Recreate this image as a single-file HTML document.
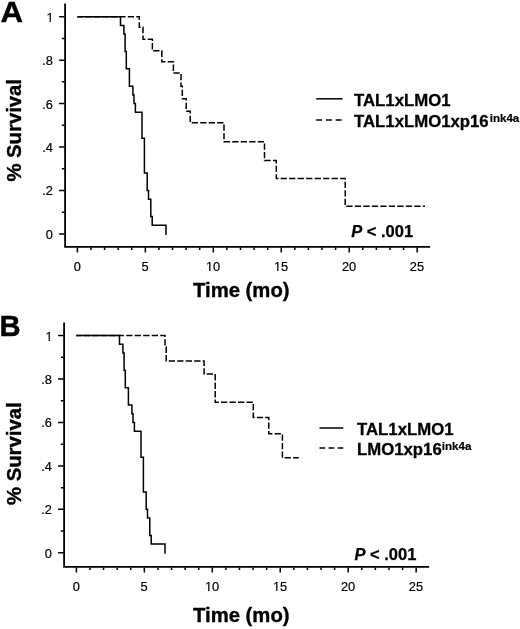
<!DOCTYPE html>
<html lang="en">
<head>
<meta charset="utf-8">
<title>Survival curves</title>
<style>
html,body{margin:0;padding:0;background:#fff;}
body{width:520px;height:629px;overflow:hidden;}
svg{display:block;will-change:transform;opacity:0.999;}
text{font-family:"Liberation Sans", Arial, Helvetica, sans-serif;fill:#000;}
.tk{font-size:12.8px;stroke:#000;stroke-width:0.2px;}
.ttl{font-size:20.3px;font-weight:bold;stroke:#000;stroke-width:0.35px;}
.pl{font-size:29.5px;font-weight:bold;stroke:#000;stroke-width:0.4px;}
.lg{font-size:16.75px;font-weight:bold;stroke:#000;stroke-width:0.3px;}
.sup{font-size:11.6px;font-weight:bold;stroke-width:0.2px;}
.pv{font-size:16.5px;font-weight:bold;stroke:#000;stroke-width:0.25px;}
</style>
</head>
<body>
<svg width="520" height="629" viewBox="0 0 520 629">
<rect width="520" height="629" fill="#fff"/>
<path d="M65.10,3.60 V246.85 H430.15" fill="none" stroke="#000" stroke-width="1.8" stroke-linejoin="miter"/>
<path d="M64.60,16.70 h-5.50 M64.60,38.42 h-2.80 M64.60,60.14 h-5.50 M64.60,81.86 h-2.80 M64.60,103.58 h-5.50 M64.60,125.30 h-2.80 M64.60,147.02 h-5.50 M64.60,168.74 h-2.80 M64.60,190.46 h-5.50 M64.60,212.18 h-2.80 M64.60,233.90 h-5.50 M77.40,247.35 v5.20 M90.99,247.35 v2.60 M104.58,247.35 v2.60 M118.17,247.35 v2.60 M131.76,247.35 v2.60 M145.35,247.35 v5.20 M158.94,247.35 v2.60 M172.53,247.35 v2.60 M186.12,247.35 v2.60 M199.71,247.35 v2.60 M213.30,247.35 v5.20 M226.89,247.35 v2.60 M240.48,247.35 v2.60 M254.07,247.35 v2.60 M267.66,247.35 v2.60 M281.25,247.35 v5.20 M294.84,247.35 v2.60 M308.43,247.35 v2.60 M322.02,247.35 v2.60 M335.61,247.35 v2.60 M349.20,247.35 v5.20 M362.79,247.35 v2.60 M376.38,247.35 v2.60 M389.97,247.35 v2.60 M403.56,247.35 v2.60 M417.15,247.35 v5.20" fill="none" stroke="#000" stroke-width="1.5"/>
<text x="53.50" y="21.70" text-anchor="end" class="tk">1</text>
<rect x="46.64" y="20.24" width="2.88" height="2.16" fill="#fff"/><rect x="50.86" y="20.24" width="3.07" height="2.16" fill="#fff"/>
<text x="52.90" y="65.14" text-anchor="end" class="tk">.8</text>
<text x="52.90" y="108.58" text-anchor="end" class="tk">.6</text>
<text x="52.90" y="152.02" text-anchor="end" class="tk">.4</text>
<text x="52.90" y="195.46" text-anchor="end" class="tk">.2</text>
<text x="52.90" y="238.90" text-anchor="end" class="tk">0</text>
<text x="77.20" y="271.15" text-anchor="middle" class="tk">0</text>
<text x="145.15" y="271.15" text-anchor="middle" class="tk">5</text>
<text x="213.10" y="271.15" text-anchor="middle" class="tk">10</text>
<rect x="206.24" y="269.69" width="2.88" height="2.16" fill="#fff"/><rect x="210.46" y="269.69" width="3.07" height="2.16" fill="#fff"/>
<text x="281.05" y="271.15" text-anchor="middle" class="tk">15</text>
<rect x="274.19" y="269.69" width="2.88" height="2.16" fill="#fff"/><rect x="278.41" y="269.69" width="3.07" height="2.16" fill="#fff"/>
<text x="349.00" y="271.15" text-anchor="middle" class="tk">20</text>
<text x="416.95" y="271.15" text-anchor="middle" class="tk">25</text>
<path d="M77.40,16.70 L120.50,16.70 L120.50,25.39 L123.90,25.39 L123.90,34.08 L125.10,34.08 L125.10,51.45 L126.30,51.45 L126.30,68.83 L129.40,68.83 L129.40,86.20 L132.90,86.20 L132.90,94.89 L134.00,94.89 L134.00,103.58 L135.40,103.58 L135.40,112.27 L142.00,112.27 L142.00,138.33 L144.40,138.33 L144.40,173.08 L147.20,173.08 L147.20,190.46 L148.50,190.46 L148.50,199.15 L150.80,199.15 L150.80,216.52 L152.20,216.52 L152.20,225.21 L166.00,225.21 L166.00,234.90" fill="none" stroke="#000" stroke-width="1.5" stroke-linejoin="miter"/>
<path d="M77.40,16.70 L139.30,16.70 L139.30,27.20 L143.00,27.20 L143.00,39.30 L152.40,39.30 L152.40,50.80 L161.80,50.80 L161.80,61.80 L173.40,61.80 L173.40,73.10 L181.00,73.10 L181.00,86.20 L182.30,86.20 L182.30,98.70 L186.20,98.70 L186.20,111.30 L190.20,111.30 L190.20,122.80 L224.00,122.80 L224.00,141.80 L264.50,141.80 L264.50,160.60 L276.30,160.60 L276.30,178.40 L345.20,178.40 L345.20,206.20 L425.00,206.20" fill="none" stroke="#000" stroke-width="1.5" stroke-dasharray="6.3 2.2" stroke-dashoffset="0.6" stroke-linejoin="miter"/>
<path d="M64.10,322.50 V566.90 H429.15" fill="none" stroke="#000" stroke-width="1.8" stroke-linejoin="miter"/>
<path d="M63.60,335.60 h-5.50 M63.60,357.32 h-2.80 M63.60,379.04 h-5.50 M63.60,400.76 h-2.80 M63.60,422.48 h-5.50 M63.60,444.20 h-2.80 M63.60,465.92 h-5.50 M63.60,487.64 h-2.80 M63.60,509.36 h-5.50 M63.60,531.08 h-2.80 M63.60,552.80 h-5.50 M76.40,567.40 v5.20 M89.99,567.40 v2.60 M103.58,567.40 v2.60 M117.17,567.40 v2.60 M130.76,567.40 v2.60 M144.35,567.40 v5.20 M157.94,567.40 v2.60 M171.53,567.40 v2.60 M185.12,567.40 v2.60 M198.71,567.40 v2.60 M212.30,567.40 v5.20 M225.89,567.40 v2.60 M239.48,567.40 v2.60 M253.07,567.40 v2.60 M266.66,567.40 v2.60 M280.25,567.40 v5.20 M293.84,567.40 v2.60 M307.43,567.40 v2.60 M321.02,567.40 v2.60 M334.61,567.40 v2.60 M348.20,567.40 v5.20 M361.79,567.40 v2.60 M375.38,567.40 v2.60 M388.97,567.40 v2.60 M402.56,567.40 v2.60 M416.15,567.40 v5.20" fill="none" stroke="#000" stroke-width="1.5"/>
<text x="52.50" y="340.60" text-anchor="end" class="tk">1</text>
<rect x="45.64" y="339.14" width="2.88" height="2.16" fill="#fff"/><rect x="49.86" y="339.14" width="3.07" height="2.16" fill="#fff"/>
<text x="51.90" y="384.04" text-anchor="end" class="tk">.8</text>
<text x="51.90" y="427.48" text-anchor="end" class="tk">.6</text>
<text x="51.90" y="470.92" text-anchor="end" class="tk">.4</text>
<text x="51.90" y="514.36" text-anchor="end" class="tk">.2</text>
<text x="51.90" y="557.80" text-anchor="end" class="tk">0</text>
<text x="76.20" y="591.20" text-anchor="middle" class="tk">0</text>
<text x="144.15" y="591.20" text-anchor="middle" class="tk">5</text>
<text x="212.10" y="591.20" text-anchor="middle" class="tk">10</text>
<rect x="205.24" y="589.74" width="2.88" height="2.16" fill="#fff"/><rect x="209.46" y="589.74" width="3.07" height="2.16" fill="#fff"/>
<text x="280.05" y="591.20" text-anchor="middle" class="tk">15</text>
<rect x="273.19" y="589.74" width="2.88" height="2.16" fill="#fff"/><rect x="277.41" y="589.74" width="3.07" height="2.16" fill="#fff"/>
<text x="348.00" y="591.20" text-anchor="middle" class="tk">20</text>
<text x="415.95" y="591.20" text-anchor="middle" class="tk">25</text>
<path d="M76.40,335.60 L119.50,335.60 L119.50,344.29 L122.90,344.29 L122.90,352.98 L124.10,352.98 L124.10,370.35 L125.30,370.35 L125.30,387.73 L128.40,387.73 L128.40,405.10 L131.90,405.10 L131.90,413.79 L133.00,413.79 L133.00,422.48 L134.40,422.48 L134.40,431.17 L141.00,431.17 L141.00,457.23 L143.40,457.23 L143.40,491.98 L146.20,491.98 L146.20,509.36 L147.50,509.36 L147.50,518.05 L149.80,518.05 L149.80,535.42 L151.20,535.42 L151.20,544.11 L165.00,544.11 L165.00,553.80" fill="none" stroke="#000" stroke-width="1.5" stroke-linejoin="miter"/>
<path d="M76.40,335.60 L165.00,335.60 L165.00,346.90 L166.20,346.90 L166.20,361.10 L204.10,361.10 L204.10,374.10 L215.20,374.10 L215.20,402.30 L253.30,402.30 L253.30,417.50 L268.80,417.50 L268.80,433.70 L282.40,433.70 L282.40,457.70 L298.80,457.70" fill="none" stroke="#000" stroke-width="1.5" stroke-dasharray="6.3 2.2" stroke-dashoffset="1.2" stroke-linejoin="miter"/>
<text transform="translate(0.6,22.3) scale(1.06,1)" class="pl">A</text>
<text x="-0.4" y="336.3" class="pl" style="font-size:29.2px">B</text>
<text x="241.3" y="296.6" text-anchor="middle" class="ttl">Time (mo)</text>
<text x="241.3" y="622.2" text-anchor="middle" class="ttl">Time (mo)</text>
<text transform="translate(20.9,130.3) rotate(-90)" text-anchor="middle" class="ttl">% Survival</text>
<text transform="translate(20.9,453.7) rotate(-90)" text-anchor="middle" class="ttl">% Survival</text>
<path d="M316.2,98.8 H342.5" stroke="#000" stroke-width="1.5" fill="none"/>
<path d="M316.2,120 H342" stroke="#000" stroke-width="1.5" stroke-dasharray="6 3.7" fill="none"/>
<text x="354.0" y="106.3" class="lg">TAL1xLMO1</text>
<text x="354.0" y="127.4" class="lg">TAL1xLMO1xp16<tspan class="sup" dx="1.0" dy="-5.4">ink4a</tspan></text>
<path d="M319.5,428 H343.3" stroke="#000" stroke-width="1.5" fill="none"/>
<path d="M319.5,448 H343.3" stroke="#000" stroke-width="1.5" stroke-dasharray="5.6 3.5" fill="none"/>
<text x="357.0" y="435.2" class="lg">TAL1xLMO1</text>
<text x="357.0" y="454.7" class="lg">LMO1xp16<tspan class="sup" dx="0" dy="-5.0">ink4a</tspan></text>
<text x="351.2" y="236.7" class="pv"><tspan font-style="italic">P</tspan> &lt; .001</text>
<text x="354.4" y="560.0" class="pv"><tspan font-style="italic">P</tspan> &lt; .001</text>
</svg>
</body>
</html>
